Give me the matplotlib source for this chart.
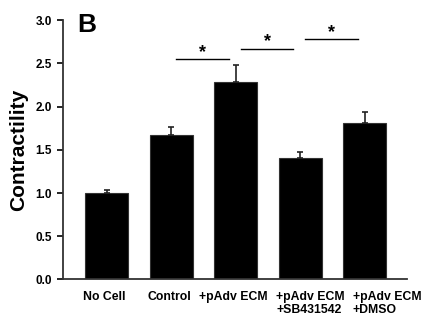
import numpy as np
import matplotlib.pyplot as plt
from matplotlib.transforms import ScaledTranslation

plt.rcParams['font.family'] = ['Liberation Sans', 'DejaVu Sans']
plt.rcParams['font.weight'] = 'bold'

groups = ['No Cell', 'Control', '+pAdv ECM', '+pAdv ECM\n+SB431542', '+pAdv ECM\n+DMSO']
means = [1.00, 1.675, 2.29, 1.405, 1.815]
errors = [0.04, 0.085, 0.19, 0.065, 0.125]

# significance brackets: (start, end, height)
sig_pairs = [(1.07, 1.89, 2.55), (2.08, 2.89, 2.67), (3.07, 3.90, 2.78)]

# horizontal nudge of each category label, in points
label_shift = [-1.5, -1.5, -2.0, 7.5, 16.0]

fig = plt.figure(figsize=(4.37, 3.33), dpi=100)
ax = fig.add_axes([0.144, 0.161, 0.788, 0.778])

x = np.arange(len(groups))
ax.bar(x, means, width=0.66, color='black', edgecolor='#333333', linewidth=0.8)
ax.errorbar(x, means, yerr=[np.zeros(len(errors)), errors], fmt='none',
            ecolor='#222222', elinewidth=1.2, capsize=2.2, capthick=1.2)

for x0, x1, h in sig_pairs:
    ax.plot([x0, x1], [h, h], color='black', lw=1)
    ax.text((x0 + x1) / 2, h - 0.02, '*', ha='center', va='bottom',
            fontsize=13, fontweight='bold')

ax.set_xlim(-0.68, 4.66)
ax.set_ylim(0, 3.0)
ax.set_yticks(np.arange(0, 3.01, 0.5))
ax.set_yticklabels([f'{v:.1f}' for v in np.arange(0, 3.01, 0.5)])
ax.set_xticks(x)
ax.set_xticklabels([])
ax.tick_params(axis='x', length=0)
ax.tick_params(axis='y', direction='out', length=4, width=1.2, labelsize=8.5, pad=4)
for lbl in ax.get_yticklabels():
    lbl.set_fontweight('bold')

# category labels, left-aligned lines, nudged sideways
for xi, name, dx in zip(x, groups, label_shift):
    off = ScaledTranslation(dx / 72, -8.5 / 72, fig.dpi_scale_trans)
    ax.text(xi, 0, name, transform=ax.get_xaxis_transform() + off,
            ha='center', va='top', multialignment='left',
            fontsize=8.8, fontweight='bold', linespacing=1.05)

ax.spines['top'].set_visible(False)
ax.spines['right'].set_visible(False)
for side in ('left', 'bottom'):
    ax.spines[side].set_linewidth(1.3)
    ax.spines[side].set_color('#333333')

ax.set_ylabel('Contractility', fontsize=15, fontweight='bold', labelpad=5)
fig.text(0.176, 0.905, 'B', fontsize=19, fontweight='bold')

fig.savefig('out.png', dpi=100)
